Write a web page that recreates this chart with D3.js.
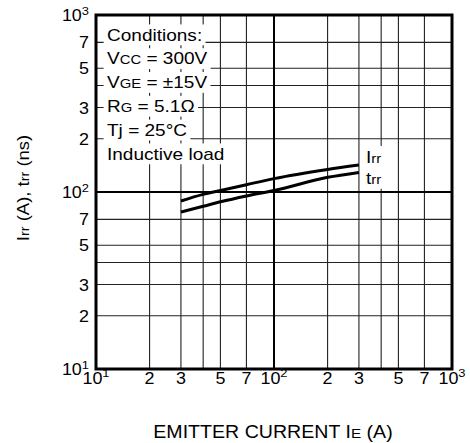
<!DOCTYPE html>
<html><head><meta charset="utf-8">
<script src="https://cdn.jsdelivr.net/npm/d3@7"></script>
<style>
html,body{margin:0;padding:0;background:#fff;}
svg{display:block;font-family:"Liberation Sans",Arial,Helvetica,sans-serif;}
</style></head>
<body><svg id="c" width="470" height="443"></svg>
<script>
// ---- data ----
const emitterCurrent = [30, 40, 50, 70, 100, 200, 300];
const irrValues = [89, 97, 102, 110, 119, 134, 142];
const trrValues = [77, 83, 88, 95, 102, 121, 129];
const gridValues = [20, 30, 40, 50, 70, 200, 300, 400, 500, 700];
const decadeValues = [100];
const xTickValues = [10, 20, 30, 50, 70, 100, 200, 300, 500, 700, 1000];
const xTickText = ["10|1", "2", "3", "5", "7", "10|2", "2", "3", "5", "7", "10|3"];
const yTickValues = [10, 20, 30, 50, 70, 100, 200, 300, 500, 700, 1000];
const yTickText = ["10|1", "2", "3", "5", "7", "10|2", "2", "3", "5", "7", "10|3"];
const conditionLines = [
  [["Conditions:", 0]],
  [["V", 0], ["CC", 1], [" = 300V", 0]],
  [["V", 0], ["GE", 1], [" = \u00B115V", 0]],
  [["R", 0], ["G", 1], [" = 5.1\u03A9", 0]],
  [["Tj = 25\u00B0C", 0]],
  [["Inductive load", 0]]
];
const seriesLabels = [[["I", 0], ["rr", 1]], [["t", 0], ["rr", 1]]];
const xTitle = [["EMITTER CURRENT  I", 0], ["E", 1], [" (A)", 0]];
const yTitle = [["I", 0], ["rr", 1], [" (A), t", 0], ["rr", 1], [" (ns)", 0]];

// ---- layout ----
const svg = d3.select("#c");
const L = 96, R = 452, T = 15, B = 369;
const x = d3.scaleLog().domain([10, 1000]).range([L, R]);
const y = d3.scaleLog().domain([10, 1000]).range([B, T]);
const FS = 16, SX = 1.12;

function rich(g, parts, size) {
  const t = g.append("text").attr("font-size", size).attr("fill", "#000");
  parts.forEach(p => {
    t.append("tspan").text(p[0]).attr("font-size", p[1] ? size * 0.78 : size);
  });
  return t;
}
function sup(g, str, size) {
  const t = g.append("text").attr("font-size", size).attr("fill", "#000");
  const [a, b] = str.split("|");
  t.append("tspan").text(a);
  if (b !== undefined) t.append("tspan").text(b).attr("font-size", size * 0.72).attr("dy", -size * 0.38);
  return t;
}

// gridlines
const grid = svg.append("g");
gridValues.forEach(v => {
  grid.append("line").attr("x1", x(v)).attr("x2", x(v)).attr("y1", T).attr("y2", B)
    .attr("stroke", "#222").attr("stroke-width", 1.1);
  grid.append("line").attr("y1", y(v)).attr("y2", y(v)).attr("x1", L).attr("x2", R)
    .attr("stroke", "#222").attr("stroke-width", 1.1);
});
decadeValues.forEach(v => {
  grid.append("line").attr("x1", x(v)).attr("x2", x(v)).attr("y1", T).attr("y2", B)
    .attr("stroke", "#000").attr("stroke-width", 2);
  grid.append("line").attr("y1", y(v)).attr("y2", y(v)).attr("x1", L).attr("x2", R)
    .attr("stroke", "#000").attr("stroke-width", 2);
});

// conditions with white backgrounds
const cond = svg.append("g");
conditionLines.forEach((parts, i) => {
  const g = cond.append("g").attr("transform", `translate(107,${40.5 + i * 23.8}) scale(${SX},1)`);
  const t = rich(g, parts, 17);
  const bb = t.node().getBBox();
  g.insert("rect", "text").attr("x", bb.x - 3).attr("y", bb.y - 1).attr("width", bb.width + 6)
    .attr("height", bb.height + 2).attr("fill", "#fff");
});

// curves
const line = d3.line().x(d => x(d[0])).y(d => y(d[1])).curve(d3.curveMonotoneX);
[irrValues, trrValues].forEach(vals => {
  svg.append("path").datum(emitterCurrent.map((e, i) => [e, vals[i]]))
    .attr("d", line).attr("fill", "none").attr("stroke", "#000").attr("stroke-width", 3);
});

// series labels
seriesLabels.forEach((parts, i) => {
  const g = svg.append("g").attr("transform", `translate(366,${163 + i * 21}) scale(${SX},1)`);
  const t = rich(g, parts, 17);
  const bb = t.node().getBBox();
  g.insert("rect", "text").attr("x", bb.x - 2).attr("y", bb.y - 2).attr("width", bb.width + 5)
    .attr("height", bb.height + 3).attr("fill", "#fff");
});

// frame
svg.append("rect").attr("x", L).attr("y", T).attr("width", R - L).attr("height", B - T)
  .attr("fill", "none").attr("stroke", "#000").attr("stroke-width", 3);

// x tick labels
xTickValues.forEach((v, i) => {
  const g = svg.append("g").attr("transform", `translate(${x(v)},${383.5}) scale(${SX},1)`);
  sup(g, xTickText[i], FS).attr("text-anchor", "middle");
});
// y tick labels
yTickValues.forEach((v, i) => {
  const g = svg.append("g").attr("transform", `translate(89,${y(v) + 6}) scale(${SX},1)`);
  sup(g, yTickText[i], FS).attr("text-anchor", "end");
});

// axis titles
{
  const g = svg.append("g").attr("transform", `translate(${(L + R) / 2 - 1},438) scale(${SX},1)`);
  rich(g, xTitle, 17.5).attr("text-anchor", "middle");
}
{
  const g = svg.append("g").attr("transform", `translate(29,188) rotate(-90) scale(${SX},1)`);
  rich(g, yTitle, 16.5).attr("text-anchor", "middle");
}
</script></body></html>
